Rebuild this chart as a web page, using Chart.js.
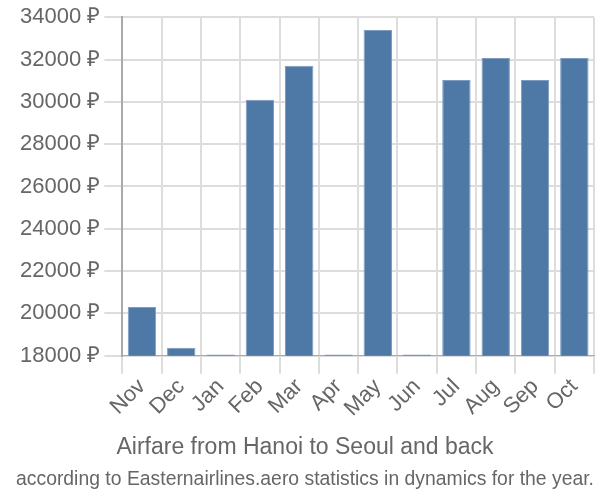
<!DOCTYPE html>
<html>
<head>
<meta charset="utf-8">
<script src="https://cdn.jsdelivr.net/npm/chart.js@4"></script>
<style>
  html, body { margin: 0; padding: 0; background: #fff; }
  #wrap { width: 600px; height: 500px; }
</style>
</head>
<body>
<div id="wrap"><canvas id="fareChart" width="600" height="500"></canvas></div>
<script>
const months = ["Nov", "Dec", "Jan", "Feb", "Mar", "Apr", "May", "Jun", "Jul", "Aug", "Sep", "Oct"];
const prices = [20300, 18380, 18060, 30100, 31700, 18060, 33400, 18060, 31030, 32070, 31030, 32070];
const yTicks = [18000, 20000, 22000, 24000, 26000, 28000, 30000, 32000, 34000];

const ctx = document.getElementById("fareChart").getContext("2d");
new Chart(ctx, {
    type: "bar",
    data: {
        labels: months,
        datasets: [{
            data: prices,
            backgroundColor: "#4e79a7",
            borderColor: "#7d9cc0",
            borderWidth: 1,
            categoryPercentage: 0.95,
            barPercentage: 0.76,
        }],
    },
    options: {
        responsive: false,
        animation: false,
        layout: { padding: { left: 16, right: 6, top: 4, bottom: 0 } },
        plugins: {
            legend: { display: false },
            tooltip: { enabled: false },
            title: {
                display: true,
                position: "bottom",
                weight: 1000,
                text: "Airfare from Hanoi to Seoul and back",
                color: "#666",
                font: { family: "Liberation Sans", size: 23, weight: "normal" },
                padding: { top: 12, bottom: 6 },
            },
            subtitle: {
                display: true,
                position: "bottom",
                weight: 1500,
                text: "according to Easternairlines.aero statistics in dynamics for the year.",
                color: "#666",
                font: { family: "Liberation Sans", size: 20.5, weight: "normal" },
                padding: { top: 0, bottom: 8 },
            },
        },
        scales: {
            x: {
                grid: { color: "#ddd", lineWidth: 2, offset: true, tickLength: 18 },
                border: { color: "#aaa", width: 1 },
                ticks: {
                    color: "#666",
                    font: { family: "Liberation Sans", size: 22 },
                    maxRotation: 45,
                    minRotation: 45,
                    autoSkip: false,
                    padding: 0,
                },
            },
            y: {
                min: 18000,
                max: 34000,
                afterBuildTicks: (axis) => { axis.ticks = yTicks.map((v) => ({ value: v })); },
                grid: { color: "#ddd", lineWidth: 2, tickLength: 18 },
                border: { color: "#aaa", width: 2 },
                ticks: {
                    color: "#666",
                    font: { family: "Liberation Sans", size: 22 },
                    padding: 4,
                    callback: (v) => v + " ₽",
                },
            },
        },
    },
});
</script>
</body>
</html>
